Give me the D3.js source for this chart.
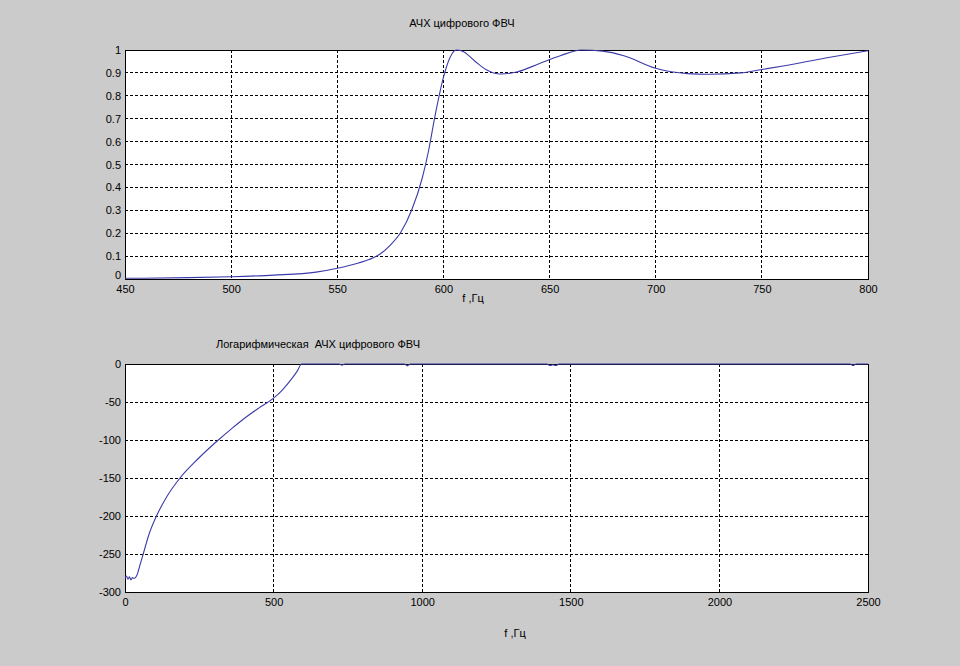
<!DOCTYPE html>
<html><head><meta charset="utf-8">
<script src="https://cdn.jsdelivr.net/npm/d3@7"></script>
<style>body{margin:0;background:#cbcbcb;} svg{display:block;} text{font-family:"Liberation Sans",Arial,sans-serif;font-size:11px;fill:#000;white-space:pre;}</style>
</head><body><svg id="c" width="960" height="666"></svg>
<script>
// Top plot: linear magnitude response
const topFreq = [450,480,500,520,540,550,560,565,570,575,580,585,590,593,596,600,603,606,609,615,620,627,635,645,655,665,675,685,700,715,725,740,750,760,780,800];
const topMag  = [0.003,0.006,0.01,0.017,0.03,0.047,0.07,0.085,0.108,0.148,0.205,0.3,0.44,0.56,0.71,0.88,0.965,1.0,0.995,0.95,0.915,0.895,0.905,0.94,0.975,1.0,0.995,0.975,0.92,0.897,0.894,0.9,0.915,0.93,0.965,0.997];
const topXTicks = [450,500,550,600,650,700,750,800];
const topYTicks = [0,0.1,0.2,0.3,0.4,0.5,0.6,0.7,0.8,0.9,1];
// Bottom plot: log magnitude response (dB)
const logFreq = [0,5,10,15,20,25,30,35,40,45,50,62,80,106,140,185,245,314,359,400,450,500,530,560,580,594,600,720,730,740,940,950,960,1420,1430,1440,1450,1460,2440,2450,2460,2500];
const logMag  = [-282,-279,-283,-280,-284,-281,-282,-281,-278,-272,-265,-249,-225,-200,-175,-150,-125,-100,-85,-72,-58,-45,-34,-20,-9,0,0,0,-1.5,0,0,-2.5,0,0,-2,-1,-2,0,0,-2,0,0];
const botXTicks = [0,500,1000,1500,2000,2500];
const botYTicks = [0,-50,-100,-150,-200,-250,-300];

const svg = d3.select("#c");
const lineColor = "#3b3ba8";

function panel(cfg){
  const {x0,x1,y0,y1,xd,yd,xt,yt,xs,ys,title,tx,ty,xl,xlx,xly,fmt,liftZero} = cfg;
  const x = d3.scaleLinear().domain(xd).range([x0,x1]);
  const y = d3.scaleLinear().domain(yd).range([y1,y0]);
  const g = svg.append("g");
  g.append("rect").attr("x",x0).attr("y",y0).attr("width",x1-x0).attr("height",y1-y0).attr("fill","#fff");
  g.selectAll(".gx").data(xt.slice(1,-1)).join("line")
    .attr("x1",d=>x(d)).attr("x2",d=>x(d)).attr("y1",y0).attr("y2",y1)
    .attr("stroke","#000").attr("stroke-dasharray","3,2").attr("stroke-width",1).attr("shape-rendering","crispEdges");
  g.selectAll(".gy").data(yt.filter(d=>d!==yd[0]&&d!==yd[1])).join("line")
    .attr("x1",x0).attr("x2",x1).attr("y1",d=>y(d)).attr("y2",d=>y(d))
    .attr("stroke","#000").attr("stroke-dasharray","3,2").attr("stroke-width",1).attr("shape-rendering","crispEdges");
  g.append("rect").attr("x",x0).attr("y",y0).attr("width",x1-x0).attr("height",y1-y0)
    .attr("fill","none").attr("stroke","#000").attr("stroke-width",1).attr("shape-rendering","crispEdges");
  const id = "clip"+Math.round(y0);
  svg.append("clipPath").attr("id",id).append("rect").attr("x",x0).attr("y",y0-1).attr("width",x1-x0).attr("height",y1-y0+2);
  const line = d3.line().x((d,i)=>x(xs[i])).y((d,i)=>y(ys[i])).curve(d3.curveMonotoneX);
  g.append("path").datum(xs).attr("d",line).attr("fill","none").attr("stroke",lineColor).attr("stroke-width",1.1).attr("clip-path",`url(#${id})`);
  const ax = d3.axisBottom(x).tickValues(xt).tickSize(0).tickPadding(6).tickFormat(d=>String(d));
  const axg = g.append("g").attr("transform",`translate(0,${y1})`).call(ax);
  axg.select(".domain").remove();
  axg.selectAll("text").style("font-family",'"Liberation Sans",Arial,sans-serif').style("font-size","11px").attr("fill","#000");
  const ay = d3.axisLeft(y).tickValues(yt).tickSize(0).tickPadding(4).tickFormat(fmt);
  const ayg = g.append("g").attr("transform",`translate(${x0},0)`).call(ay);
  ayg.select(".domain").remove();
  ayg.selectAll("text").style("font-family",'"Liberation Sans",Arial,sans-serif').style("font-size","11px").attr("fill","#000");
  if (liftZero) ayg.selectAll(".tick").filter(d=>d===yd[0]).select("text").attr("dy","-0.05em");
  g.append("text").attr("x",tx).attr("y",ty).attr("text-anchor","middle").text(title);
  g.append("text").attr("x",xlx).attr("y",xly).attr("text-anchor","middle").text(xl);
}

panel({x0:125,x1:868,y0:50,y1:279,xd:[450,800],yd:[0,1],xt:topXTicks,yt:topYTicks,xs:topFreq,ys:topMag,liftZero:true,
  title:"АЧХ цифрового ФВЧ",tx:462,ty:27,xl:"f ,Гц",xlx:473,xly:302,fmt:d=>d===0||d===1?String(d):d.toFixed(1)});
panel({x0:125,x1:868,y0:364,y1:592,xd:[0,2500],yd:[-300,0],xt:botXTicks,yt:botYTicks,xs:logFreq,ys:logMag,liftZero:false,
  title:"Логарифмическая  АЧХ цифрового ФВЧ",tx:318,ty:348,xl:"f ,Гц",xlx:515,xly:637,fmt:d=>String(d)});
</script></body></html>
